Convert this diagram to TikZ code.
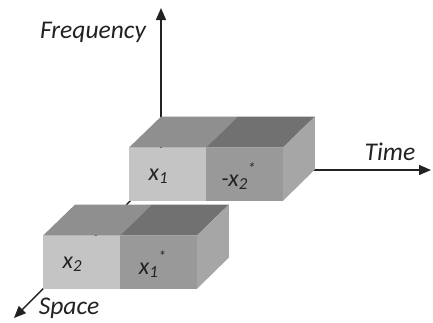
\documentclass[tikz,border=0pt]{standalone}
\usepackage{fontspec}
\setmainfont{Carlito}
\usetikzlibrary{calc}
\usetikzlibrary{arrows.meta}
\usetikzlibrary{positioning}
\definecolor{facelight}{HTML}{C4C4C4}
\definecolor{facedark}{HTML}{999999}
\definecolor{toplight}{HTML}{8F8F8F}
\definecolor{topdark}{HTML}{717171}
\definecolor{sidegray}{HTML}{A6A6A6}
\definecolor{axisgray}{HTML}{222222}
\newcommand{\conj}{\raisebox{1.1ex}{\fontsize{15}{15}\selectfont *}}
\tikzset{face/.style={draw=none, minimum width=76.5pt, minimum height=53pt, inner sep=0pt, anchor=south west}}
\tikzset{lightface/.style={face, fill=facelight}}
\tikzset{darkface/.style={face, fill=facedark}}
\tikzset{symbol/.style={inner sep=0pt, text=axisgray, font=\fontsize{24}{27}\selectfont\itshape}}
\tikzset{axis/.style={draw=axisgray, line width=1.4pt, -{Triangle[length=12pt,width=10pt]}}}
\tikzset{axislabel/.style={inner sep=0pt, text=axisgray, font=\fontsize{25.5}{29}\selectfont\itshape}}

\begin{document}
\begin{tikzpicture}[x=1pt,y=-1pt]
\useasboundingbox (0,0) rectangle (433,322);

%axes
\coordinate (O) at (161,170);
\coordinate (freqtip) at (161,8);
\coordinate (timetip) at (431,170);
\coordinate (spacetip) at (14,318);
\path[axis] (O) -- (freqtip);
\path[axis] (O) -- (timetip);
\path[axis] (O) -- (spacetip);

%upper block
\node[lightface] (ux) at (129,201) {};
\node[darkface] (uy) at (ux.south east) {};
\fill[toplight] (ux.north west) -- ++(32,-31) -- ($(ux.north east)+(32,-31)$) -- (ux.north east) -- cycle;
\fill[topdark] (uy.north west) -- ++(32,-31) -- ($(uy.north east)+(32,-31)$) -- (uy.north east) -- cycle;
\fill[sidegray] (uy.north east) -- ++(32,-31) -- ++(0,53) -- (uy.south east) -- cycle;
\node[symbol] (x1) at ([xshift=-9pt,yshift=-2pt]ux.center) {x\textsubscript{1}};
\node[symbol] (mx2) at ([xshift=-6pt,yshift=-2pt]uy.center) {-x\textsubscript{2}\conj};

%lower block
\node[lightface] (lx) at (43,289) {};
\node[darkface] (ly) at (lx.south east) {};
\fill[toplight] (lx.north west) -- ++(32,-31) -- ($(lx.north east)+(32,-31)$) -- (lx.north east) -- cycle;
\fill[topdark] (ly.north west) -- ++(32,-31) -- ($(ly.north east)+(32,-31)$) -- (ly.north east) -- cycle;
\fill[sidegray] (ly.north east) -- ++(32,-31) -- ++(0,53) -- (ly.south east) -- cycle;
\node[symbol] (x2) at ([xshift=-9pt,yshift=-2pt]lx.center) {x\textsubscript{2}};
\node[symbol] (cx1) at ([xshift=-6pt,yshift=-2pt]ly.center) {x\textsubscript{1}\conj};

%axis names
\node[axislabel] (freq) at (93,32) {Frequency};
\node[axislabel] (time) at (390,152) {Time};
\node[axislabel] (space) at (69,308) {Space};

\end{tikzpicture}
\end{document}
